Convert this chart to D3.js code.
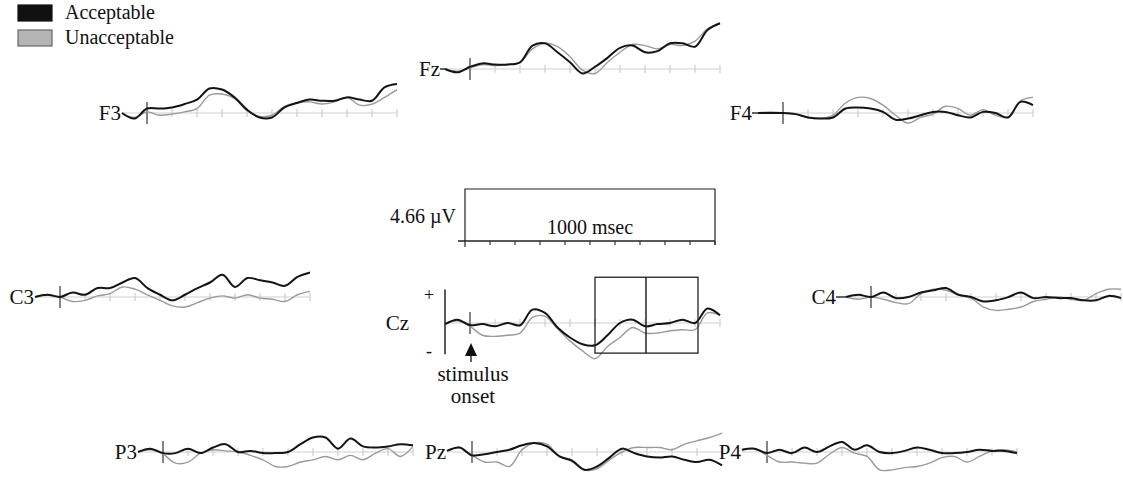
<!DOCTYPE html>
<html><head><meta charset="utf-8">
<script src="https://cdn.jsdelivr.net/npm/d3@7"></script>
<style>
body{margin:0;background:#fff}
svg{display:block}
text{font-family:"Liberation Serif","Times New Roman",serif;fill:#111}
</style>
</head><body><svg id="c" width="1123" height="477"></svg>
<script>
// ---- data (time in ms, amplitude in microvolts, positive up) ----
const timesMs = [-100,-50,0,50,100,150,200,250,300,350,400,450,500,550,600,650,700,750,800,850,900,950,1000];
const seriesNames = ["Acceptable","Unacceptable"];
const electrodes = ["F3","Fz","F4","C3","Cz","C4","P3","Pz","P4"];

const f3Acceptable   = [0,-0.5,0.4,0.4,0.5,0.8,1.2,2.2,2.1,1.4,0.3,-0.4,-0.4,0.5,0.9,1.2,1.1,1.1,1.4,1.2,1.1,2.3,2.6];
const f3Unacceptable = [0,-0.4,0.1,-0.2,-0.1,0.1,0.4,1.6,1.7,1.3,0.2,-0.3,-0.2,0.6,0.9,1.0,0.8,1.0,1.4,0.7,0.8,1.4,2.1];
const fzAcceptable   = [0,-0.3,0.2,0.5,0.4,0.4,0.6,2.1,2.3,1.5,0.6,-0.4,0.2,1.0,1.9,2.1,1.5,1.6,2.3,2.3,2.0,3.5,4.1];
const fzUnacceptable = [0,-0.2,0.1,0.4,0.3,0.4,0.6,1.8,2.3,2.0,1.1,-0.1,-0.4,0.6,1.5,2.2,2.1,1.8,2.2,2.1,2.5,3.6,4.1];
const f4Acceptable   = [0,0,0,-0.1,-0.4,-0.5,-0.4,0.4,0.5,0.4,0.1,-0.6,-0.5,-0.2,0.1,0.1,-0.2,-0.4,0.1,0,-0.4,1.0,0.7];
const f4Unacceptable = [0,0.1,0,-0.1,-0.4,-0.5,-0.2,0.9,1.4,1.3,0.7,-0.2,-0.9,-0.4,-0.1,0.6,0.4,-0.2,0.3,-0.2,-0.4,1.1,1.4];
const c3Acceptable   = [0,0.2,0,0.4,0.2,0.8,0.8,1.3,1.7,0.8,0.2,-0.3,0.2,0.8,1.3,2.0,0.9,1.7,1.5,1.3,1.0,1.8,2.2];
const c3Unacceptable = [0,0.2,0,-0.4,-0.3,0.1,0.3,0.9,0.7,0.2,-0.3,-0.8,-0.9,-0.5,-0.1,0.1,-0.1,0.2,-0.1,-0.2,-0.4,0.2,0.5];
const czAcceptable   = [-0.1,0.3,-0.2,-0.1,-0.3,0,-0.2,1.2,0.9,-0.4,-1.3,-1.9,-2.0,-1.1,0,0.3,-0.3,-0.1,0,0.3,0,1.3,0.7];
const czUnacceptable = [-0.1,0.2,-0.3,-1.1,-1.2,-1.1,-0.9,0.5,0.6,-0.5,-1.6,-2.5,-3.2,-2.1,-1.3,-0.4,-0.9,-0.9,-0.7,-0.6,-0.6,0.9,0.7];
const c4Acceptable   = [0,0.2,0,0.4,-0.1,0,0.4,0.6,0.8,0.2,0,-0.4,-0.3,0,0.4,-0.1,0,-0.1,-0.1,-0.3,-0.3,0.1,-0.1];
const c4Unacceptable = [0,-0.2,0,-0.2,-0.5,-0.6,0.3,0.7,0.6,0.2,-0.1,-0.9,-1.2,-1.1,-0.9,-0.4,-0.2,0,-0.2,-0.3,0.3,0.7,0.7];
const p3Acceptable   = [0,0.3,-0.1,-0.1,0.3,-0.1,0.4,0.7,0,0.1,-0.1,-0.1,0,0.7,1.3,1.3,0.3,1.2,0.5,0.4,0.5,0.7,0.6];
const p3Unacceptable = [0,0.2,-0.2,-1.0,-0.9,-0.1,0.2,0.1,0,-0.3,-0.7,-1.3,-1.3,-0.9,-0.7,-0.4,-0.7,-0.3,-0.7,-0.1,0.3,-0.4,0.5];
const pzAcceptable   = [0.1,0.4,-0.3,-0.2,0,0.2,0.6,0.8,0.5,-0.4,-0.8,-1.6,-1.3,-0.5,0.3,-0.1,-0.4,-0.5,-0.4,-0.7,-0.9,-0.7,-1.2];
const pzUnacceptable = [0.1,0.4,-0.3,-0.9,-0.9,-1.3,0.2,0.8,0.7,-0.4,-0.7,-1.6,-1.5,-0.7,0,0.4,0.4,0.4,0.2,0.7,1.0,1.3,1.7];
const p4Acceptable   = [0.2,0.3,-0.1,0.2,-0.1,0.4,0,0.5,0.9,0.2,0.6,0,-0.1,0.1,0.4,0.2,-0.1,-0.1,0,0.2,0.1,0.1,-0.1];
const p4Unacceptable = [0.2,0.3,-0.3,-0.9,-0.9,-1.0,-1.0,-0.2,0.4,-0.1,-0.4,-1.6,-1.6,-1.4,-1.3,-1.0,-0.5,-0.4,-0.9,-0.4,0.1,0.2,0];

const tickMs = [100,200,300,400,500,600,700,800,900,1000];
const calibrationUv = 4.66;
const calibrationMs = 1000;
const calibrationLabel = "4.66 \u00B5V";
const calibrationTimeLabel = "1000 msec";
const windowMs = [500,700,900];
const windowUv = [-2.7,4.1];
const czAxisUv = [-2.8,3.0];

// ---- layout ----
const PX_PER_MS = 0.25;
const PX_PER_UV = 52 / 4.66;
const layout = {
  F3:{x0:147,y0:113}, Fz:{x0:470,y0:69}, F4:{x0:783,y0:113},
  C3:{x0:60,y0:297},  Cz:{x0:470,y0:323}, C4:{x0:871,y0:297},
  P3:{x0:163,y0:452}, Pz:{x0:472,y0:452}, P4:{x0:767,y0:452}
};
const labelGap = {C4:9, Fz:4, F4:5};
const seriesData = {
  F3:[f3Acceptable,f3Unacceptable], Fz:[fzAcceptable,fzUnacceptable], F4:[f4Acceptable,f4Unacceptable],
  C3:[c3Acceptable,c3Unacceptable], Cz:[czAcceptable,czUnacceptable], C4:[c4Acceptable,c4Unacceptable],
  P3:[p3Acceptable,p3Unacceptable], Pz:[pzAcceptable,pzUnacceptable], P4:[p4Acceptable,p4Unacceptable]
};
const colors = {Acceptable:"#141414", Unacceptable:"#9a9a9a"};
const widths = {Acceptable:2, Unacceptable:1.4};

const svg = d3.select("#c");

function scalesFor(x0,y0){
  const x = d3.scaleLinear().domain([-100,1000]).range([x0-100*PX_PER_MS, x0+1000*PX_PER_MS]);
  const y = d3.scaleLinear().domain([-5,5]).range([y0+5*PX_PER_UV, y0-5*PX_PER_UV]);
  return {x,y};
}

electrodes.forEach(name=>{
  const {x0,y0} = layout[name];
  const {x,y} = scalesFor(x0,y0);
  const g = svg.append("g").attr("class","panel");
  // baseline
  g.append("line").attr("x1",x(-100)).attr("x2",x(1000)).attr("y1",y(0)).attr("y2",y(0))
    .attr("stroke","#cfcfcf").attr("stroke-width",1.2);
  g.selectAll("line.tick").data(tickMs).join("line").attr("class","tick")
    .attr("x1",d=>x(d)).attr("x2",d=>x(d)).attr("y1",y(0)-4).attr("y2",y(0)+4)
    .attr("stroke","#cfcfcf").attr("stroke-width",1.2);
  // onset marker
  g.append("line").attr("x1",x(0)).attr("x2",x(0)).attr("y1",y(0)-11).attr("y2",y(0)+11)
    .attr("stroke","#444").attr("stroke-width",1.3);
  // label
  const labelX = name==="Cz" ? 409 : x(-100)-1-(labelGap[name]||0);
  g.append("text").attr("x",labelX).attr("y",y(0)).attr("dy","0.33em")
    .attr("text-anchor","end").attr("font-size",21).text(name);
  if(labelGap[name]){
    g.append("line").attr("x1",labelX).attr("x2",x(-100)).attr("y1",y(0)).attr("y2",y(0))
      .attr("stroke","#222").attr("stroke-width",1.4);
  }
  // traces (unacceptable under acceptable)
  const line = d3.line().x((d,i)=>x(timesMs[i])).y(d=>y(d)).curve(d3.curveCatmullRom.alpha(0.5));
  [1,0].forEach(si=>{
    const s = seriesNames[si];
    g.append("path").datum(seriesData[name][si]).attr("d",line)
      .attr("fill","none").attr("stroke",colors[s]).attr("stroke-width",widths[s])
      .attr("stroke-linejoin","round");
  });
  if(name==="Cz"){
    // vertical polarity axis
    g.append("line").attr("x1",x(-100)).attr("x2",x(-100)).attr("y1",y(czAxisUv[1])).attr("y2",y(czAxisUv[0]))
      .attr("stroke","#222").attr("stroke-width",1.5);
    g.append("text").attr("x",429).attr("y",y(czAxisUv[1])+6).attr("dy","0.33em").attr("text-anchor","middle")
      .attr("font-size",18).attr("fill","#555").text("+");
    g.append("text").attr("x",429).attr("y",y(czAxisUv[0])-3).attr("dy","0.33em").attr("text-anchor","middle")
      .attr("font-size",18).attr("fill","#333").text("-");
    // analysis windows
    g.append("rect").attr("x",x(windowMs[0])).attr("y",y(windowUv[1]))
      .attr("width",x(windowMs[2])-x(windowMs[0])+3).attr("height",y(windowUv[0])-y(windowUv[1]))
      .attr("fill","none").attr("stroke","#222").attr("stroke-width",1.3);
    g.append("line").attr("x1",x(windowMs[1])+1).attr("x2",x(windowMs[1])+1).attr("y1",y(windowUv[1])).attr("y2",y(windowUv[0]))
      .attr("stroke","#222").attr("stroke-width",1.5);
    // stimulus onset arrow
    const ax = x(0)+1;
    g.append("path").attr("d",`M${ax},343 L${ax-6},356 L${ax+6},356 Z`).attr("fill","#111");
    g.append("line").attr("x1",ax).attr("x2",ax).attr("y1",354).attr("y2",362).attr("stroke","#111").attr("stroke-width",1.3);
    g.append("text").attr("x",ax+2).attr("y",381).attr("text-anchor","middle").attr("font-size",21).text("stimulus");
    g.append("text").attr("x",ax+2).attr("y",403).attr("text-anchor","middle").attr("font-size",21).text("onset");
  }
});

// ---- calibration box ----
(function(){
  const cx = d3.scaleLinear().domain([0,calibrationMs]).range([465,465+calibrationMs*PX_PER_MS]);
  const cy = d3.scaleLinear().domain([0,calibrationUv]).range([241,241-calibrationUv*PX_PER_UV]);
  const g = svg.append("g");
  g.append("path").attr("d",`M${cx(0)},${cy(0)+6} L${cx(0)},${cy(calibrationUv)} L${cx(calibrationMs)},${cy(calibrationUv)} L${cx(calibrationMs)},${cy(0)+4}`)
    .attr("fill","none").attr("stroke","#222").attr("stroke-width",1.2);
  g.append("line").attr("x1",cx(0)-7).attr("x2",cx(calibrationMs)).attr("y1",cy(0)).attr("y2",cy(0))
    .attr("stroke","#222").attr("stroke-width",1.5);
  g.selectAll("line.ct").data(tickMs).join("line").attr("class","ct")
    .attr("x1",d=>cx(d)).attr("x2",d=>cx(d)).attr("y1",cy(0)).attr("y2",cy(0)+4)
    .attr("stroke","#333").attr("stroke-width",1.2);
  g.append("text").attr("x",456).attr("y",223).attr("text-anchor","end").attr("font-size",20).text(calibrationLabel);
  g.append("text").attr("x",cx(calibrationMs/2)).attr("y",234).attr("text-anchor","middle").attr("font-size",20).text(calibrationTimeLabel);
})();

// ---- legend ----
const legend = svg.append("g");
seriesNames.forEach((s,i)=>{
  legend.append("rect").attr("x",18).attr("y",5+i*25).attr("width",34).attr("height",16)
    .attr("fill", i===0 ? "#111" : "#b4b4b4").attr("stroke", i===0 ? "#111" : "#666").attr("stroke-width",1.2);
  legend.append("text").attr("x",65).attr("y",19+i*25).attr("font-size",20).text(s);
});
</script>
</body></html>
